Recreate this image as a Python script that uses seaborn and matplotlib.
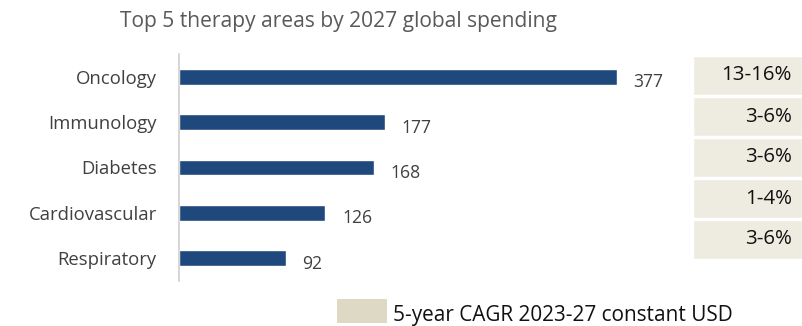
import matplotlib
matplotlib.use("Agg")
import matplotlib.pyplot as plt
import seaborn as sns
import pandas as pd
from matplotlib.patches import Rectangle

categories = ["Oncology", "Immunology", "Diabetes", "Cardiovascular", "Respiratory"]
spending = [377, 177, 168, 126, 92]
cagr = ["13-16%", "3-6%", "3-6%", "1-4%", "3-6%"]
title = "Top 5 therapy areas by 2027 global spending"
legend_label = "5-year CAGR 2023-27 constant USD"

sns.set_theme(style="white")
plt.rcParams['font.family'] = ['Open Sans', 'DejaVu Sans']

df = pd.DataFrame({"area": categories, "spend": spending, "cagr": cagr})

W, H = 802, 326
fig = plt.figure(figsize=(W / 100, H / 100), dpi=100)

def frac(x0, y0, x1, y1):
    return [x0 / W, 1 - y1 / H, (x1 - x0) / W, (y1 - y0) / H]

bar_color = "#1F497D"
txt = "#404040"
beige = "#EEECE1"

ax = fig.add_axes(frac(179, 54, 690, 281))
sns.barplot(data=df, x="spend", y="area", orient="h", color=bar_color,
            width=0.35, saturation=1, ax=ax)
ax.set_xlim(0, 440)
ax.set_xlabel("")
ax.set_ylabel("")
ax.set_xticks([])
for s in ["top", "right", "bottom"]:
    ax.spines[s].set_visible(False)
ax.spines["left"].set_color("#D0D0D0")
ax.spines["left"].set_linewidth(1.2)
ax.tick_params(axis="y", length=0, pad=16, labelsize=12, labelcolor=txt)
vals = []
for i, v in enumerate(spending):
    vals.append(ax.annotate(str(v), (v, i), xytext=(12, -7.5), textcoords="offset points",
                            ha="left", va="baseline", fontsize=12, color=txt))

ax2 = fig.add_axes(frac(693, 55, 802, 260))
ax2.barh(range(len(cagr)), [1] * len(cagr), height=0.95, color=beige, left=0)
ax2.set_xlim(0, 1)
ax2.set_ylim(len(cagr) - 0.5, -0.5)
ax2.axis("off")
ctexts = []
for i, c in enumerate(cagr):
    ctexts.append(ax2.text(0.908, i, c, ha="right", va="center", fontsize=13, color="#111111"))

ttl = fig.text(338 / W, 1 - 27.5 / H, title, ha="center", va="baseline", fontsize=13, color="#595959")

fig.add_artist(Rectangle((337 / W, 1 - 323 / H), 50 / W, 24 / H, transform=fig.transFigure,
                         facecolor="#DDD9C4", edgecolor="none"))
leg = fig.text(393 / W, 1 - 321 / H, legend_label, ha="left", va="baseline", fontsize=15, color="#111111")

# fit font sizes to measured pixel widths of the reference text
fig.canvas.draw()
r = fig.canvas.get_renderer()

def scale_for(t, target):
    return target / t.get_window_extent(r).width

ttl.set_fontsize(13 * scale_for(ttl, 434))
leg.set_fontsize(15 * scale_for(leg, 340))
s = scale_for(vals[0], 30)
for t in vals:
    t.set_fontsize(12 * s)
s = scale_for(ctexts[0], 70)
for t in ctexts:
    t.set_fontsize(13 * s)
lab = [t for t in ax.get_yticklabels() if t.get_text() == "Cardiovascular"][0]
ax.tick_params(axis="y", labelsize=12 * scale_for(lab, 127))

fig.savefig("out.png", dpi=100)
